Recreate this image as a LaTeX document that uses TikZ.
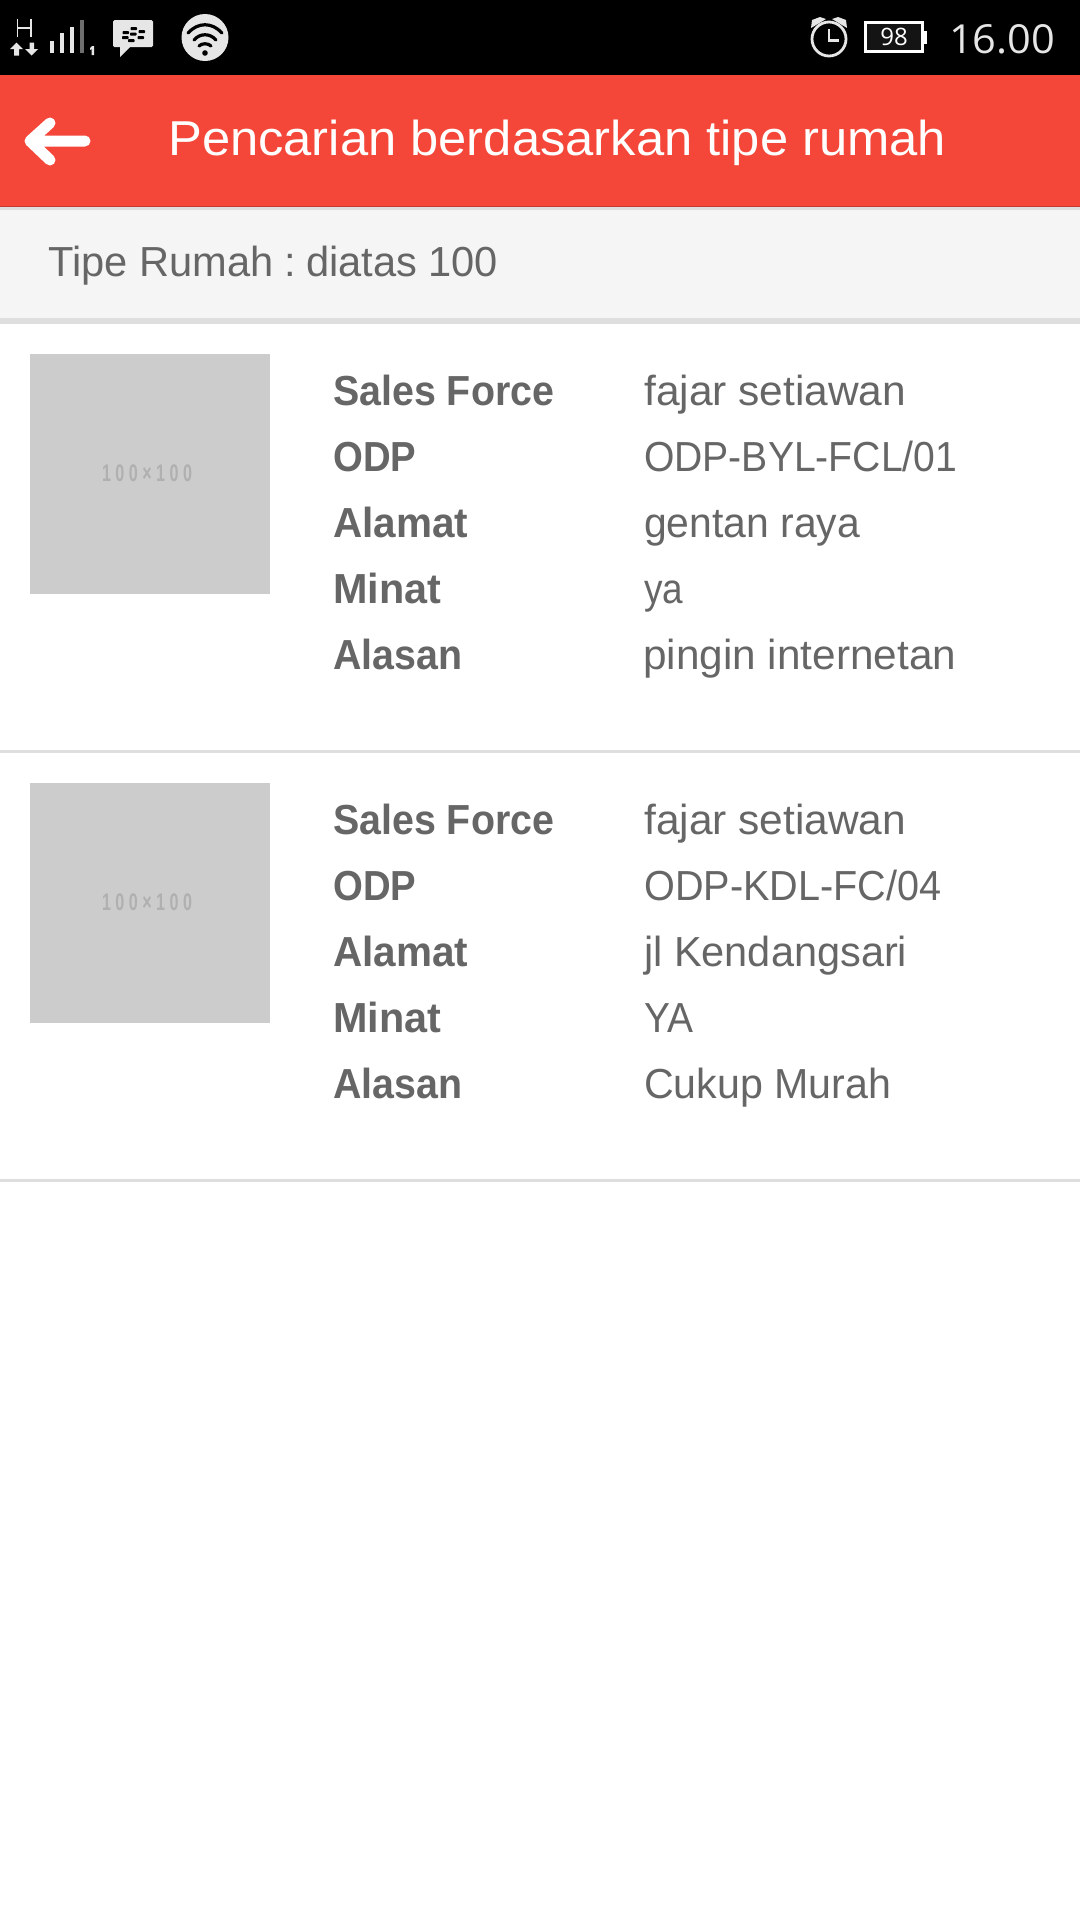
\documentclass[tikz,border=0pt]{standalone}
\usepackage{graphicx}
\usepackage{fontspec}
\setmainfont{Liberation Sans}
\newfontfamily\statusfont{Open Sans}
\definecolor{barred}{HTML}{F44739}
\definecolor{redline}{HTML}{C53A30}
\definecolor{bandgray}{HTML}{F5F5F5}
\definecolor{linegray}{HTML}{DEDEDE}
\definecolor{txt}{HTML}{666666}
\definecolor{ph}{HTML}{CCCCCC}
\definecolor{phtxt}{HTML}{B0B0B0}
\definecolor{icon}{HTML}{E6E6E6}
\definecolor{barfaint}{HTML}{6E6E6E}
\newcommand{\fitw}[2]{\resizebox{#1pt}{\height}{#2}}
\tikzset{
  x=1pt,y=-1pt,
  lbl/.style={anchor=base west,inner sep=0pt,text=txt,font=\fontsize{42}{50}\selectfont\bfseries},
  val/.style={anchor=base west,inner sep=0pt,text=txt,font=\fontsize{42}{50}\selectfont},
  phlabel/.style={anchor=center,inner sep=0pt,text=phtxt,font=\fontsize{24}{26}\selectfont\bfseries},
  bbdot/.style={fill=black},
  iconline/.style={draw=icon,line width=2.8pt},
}
\begin{document}
\begin{tikzpicture}
\useasboundingbox (0,0) rectangle (1080,1920);
\fill[white] (0,0) rectangle (1080,1920);
% bars
\fill[black] (0,0) rectangle (1080,75);
\fill[barred] (0,75) rectangle (1080,206);
\fill[redline] (0,206) rectangle (1080,207);
\fill[linegray] (0,207) rectangle (1080,210);
\fill[bandgray] (0,210) rectangle (1080,318);
\fill[linegray] (0,318) rectangle (1080,324);
% H and arrows
\draw[icon,line width=1.6pt] (17.5,19)--(17.5,37) (31,19)--(31,37) (17.5,28)--(31,28);
\fill[icon] (10,49)--(16.5,42.5)--(23,49)--(19,49)--(19,55.5)--(14,55.5)--(14,49)--cycle;
\fill[icon] (25,49)--(29.5,49)--(29.5,42.5)--(34,42.5)--(34,49)--(38,49)--(31.7,55.5)--cycle;
% signal bars
\fill[icon] (50,41) rectangle (54,52.5);
\fill[icon] (60,33) rectangle (64,52.5);
\fill[icon] (70,27) rectangle (74,52.5);
\fill[barfaint] (80,20) rectangle (84,52.5);
\fill[icon] (90,48)--(92,46)--(94,46)--(94,55)--(91.5,55)--(91.5,49)--(90,50)--cycle;
% BBM bubble
\fill[icon,rounded corners=1.5pt] (113,20) rectangle (153,47);
\fill[icon] (120,46)--(120,57)--(131,46)--cycle;
\foreach \bx/\by in {122.5/31,122/36,130.5/27,130/32.5,128/39,138.5/30,137.5/36}{
  \fill[bbdot,rounded corners=0.8pt] (\bx,\by) rectangle ++(6.5,3.2);
}
% wifi
\fill[icon] (205,37.5) circle[radius=23.5];
\draw[black,line width=3.2pt,line cap=round] (188,33) .. controls (198,22) and (212,22) .. (222,33);
\draw[black,line width=3.2pt,line cap=round] (194,40) .. controls (200,33) and (210,33) .. (216,40);
\draw[black,line width=3.2pt,line cap=round] (199,46) .. controls (202,43) and (208,43) .. (211,46);
\fill[black] (205,53) circle[radius=2.8];
% alarm clock
\draw[iconline] (829,39) circle[radius=17];
\draw[icon,line width=2.4pt] (829,29)--(829,40.5)--(839,40.5);
\fill[icon] (811,28)--(812,20)--(820,17)--(826,19)--cycle;
\fill[icon] (847,28)--(846,20)--(838,17)--(832,19)--cycle;
% battery
\fill[black!92!white] (865.5,22.5) rectangle (922.5,51.5);
\draw[white,line width=3pt] (865.5,22.5) rectangle (922.5,51.5);
\fill[white] (924,31) rectangle (927,44);
\node[anchor=center,inner sep=0pt,text=white,font=\statusfont\fontsize{24}{26}\selectfont] (batt) at (894,37) {98};
\node[anchor=base west,inner sep=0pt,text=icon,font=\statusfont\fontsize{40}{46}\selectfont] (clock) at (949,53) {\fitw{106}{16.00}};
% back arrow
\draw[white,line width=11pt,line cap=round,line join=round] (50,123)--(30,141)--(50,160) (30,141)--(85,141);
% title
\node[anchor=base west,inner sep=0pt,text=white,font=\fontsize{49}{56}\selectfont] (title) at (168,155) {\fitw{778}{Pencarian berdasarkan tipe rumah}};
\node[anchor=base west,inner sep=0pt,text=txt,font=\fontsize{42}{50}\selectfont] (tipe) at (48,276) {\fitw{450}{Tipe Rumah :\hspace{-6pt} diatas 100}};
% rows
\fill[ph] (30,354) rectangle (270,594);
\node[phlabel] (ph1) at (147,473) {\fitw{90}{1 0 0 × 1 0 0}};
\fill[ph] (30,783) rectangle (270,1023);
\node[phlabel] (ph2) at (147,902) {\fitw{90}{1 0 0 × 1 0 0}};
\node[lbl] (a1) at (333,405) {\fitw{221}{Sales Force}};
\node[lbl] (a2) at (333,471) {\fitw{83}{ODP}};
\node[lbl] (a3) at (333,537) {\fitw{135}{Alamat}};
\node[lbl] (a4) at (333,603) {\fitw{108}{Minat}};
\node[lbl] (a5) at (333,669) {\fitw{129}{Alasan}};
\node[val] (b1) at (644,405) {\fitw{262}{fajar setiawan}};
\node[val] (b2) at (644,471) {\fitw{313}{ODP-BYL-FCL/01}};
\node[val] (b3) at (644,537) {\fitw{216}{gentan raya}};
\node[val] (b4) at (644,603) {\fitw{39}{ya}};
\node[val] (b5) at (643,669) {\fitw{313}{pingin internetan}};
\fill[linegray] (0,750) rectangle (1080,753);
\node[lbl] (c1) at (333,834) {\fitw{221}{Sales Force}};
\node[lbl] (c2) at (333,900) {\fitw{83}{ODP}};
\node[lbl] (c3) at (333,966) {\fitw{135}{Alamat}};
\node[lbl] (c4) at (333,1032) {\fitw{108}{Minat}};
\node[lbl] (c5) at (333,1098) {\fitw{129}{Alasan}};
\node[val] (d1) at (644,834) {\fitw{262}{fajar setiawan}};
\node[val] (d2) at (644,900) {\fitw{297}{ODP-KDL-FC/04}};
\node[val] (d3) at (644,966) {\fitw{263}{jl Kendangsari}};
\node[val] (d4) at (644,1032) {\fitw{49}{YA}};
\node[val] (d5) at (644,1098) {\fitw{247}{Cukup Murah}};
\fill[linegray] (0,1179) rectangle (1080,1182);
\end{tikzpicture}
\end{document}
